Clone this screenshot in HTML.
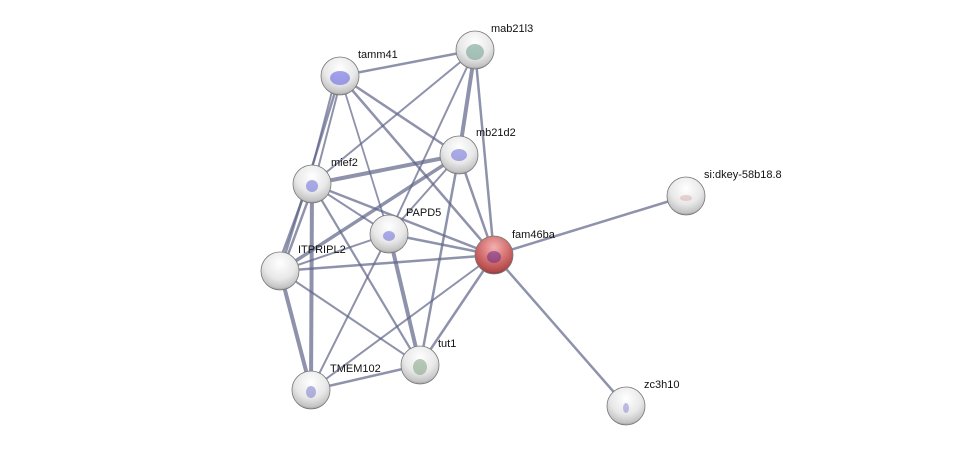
<!DOCTYPE html>
<html><head><meta charset="utf-8"><style>
html,body{margin:0;padding:0;background:#fff;}
svg{display:block;}
text{font-family:"Liberation Sans",sans-serif;font-size:11px;fill:#111;}
</style></head><body>
<svg width="975" height="451" viewBox="0 0 975 451" xmlns="http://www.w3.org/2000/svg">
<defs>
<radialGradient id="g" cx="0.5" cy="0.3" r="0.75">
<stop offset="0" stop-color="#ffffff"/><stop offset="0.55" stop-color="#e8e8e8"/><stop offset="0.85" stop-color="#c4c4c4"/><stop offset="1" stop-color="#7a7a7a"/>
</radialGradient>
<radialGradient id="r" cx="0.5" cy="0.3" r="0.75">
<stop offset="0" stop-color="#f4b0b0"/><stop offset="0.55" stop-color="#d06a6a"/><stop offset="0.85" stop-color="#b04848"/><stop offset="1" stop-color="#6a2020"/>
</radialGradient>
</defs>
<g stroke="#5e6488" stroke-opacity="0.7" fill="none">
<line x1="340" y1="76" x2="475" y2="50" stroke-width="2.5"/>
<line x1="340" y1="76" x2="459" y2="155" stroke-width="2.5"/>
<line x1="336" y1="76" x2="308" y2="184" stroke-width="2"/>
<line x1="342" y1="76" x2="314" y2="184" stroke-width="2"/>
<line x1="340" y1="76" x2="280" y2="271" stroke-width="2.5"/>
<line x1="340" y1="76" x2="494" y2="255" stroke-width="2.5"/>
<line x1="340" y1="76" x2="389" y2="234" stroke-width="1.8"/>
<line x1="475" y1="50" x2="459" y2="155" stroke-width="4"/>
<line x1="475" y1="50" x2="312" y2="184" stroke-width="2"/>
<line x1="475" y1="50" x2="494" y2="255" stroke-width="2.5"/>
<line x1="475" y1="50" x2="389" y2="234" stroke-width="2"/>
<line x1="459" y1="155" x2="312" y2="184" stroke-width="4"/>
<line x1="459" y1="155" x2="280" y2="271" stroke-width="3.5"/>
<line x1="459" y1="155" x2="494" y2="255" stroke-width="2.5"/>
<line x1="459" y1="155" x2="389" y2="234" stroke-width="2"/>
<line x1="459" y1="155" x2="420" y2="365" stroke-width="2.5"/>
<line x1="308" y1="184" x2="276" y2="271" stroke-width="2.5"/>
<line x1="314" y1="184" x2="282" y2="271" stroke-width="2.5"/>
<line x1="312" y1="184" x2="311" y2="390" stroke-width="4"/>
<line x1="312" y1="184" x2="494" y2="255" stroke-width="2.5"/>
<line x1="312" y1="184" x2="389" y2="234" stroke-width="2"/>
<line x1="312" y1="184" x2="420" y2="365" stroke-width="2.2"/>
<line x1="389" y1="234" x2="494" y2="255" stroke-width="2.5"/>
<line x1="389" y1="234" x2="420" y2="365" stroke-width="4"/>
<line x1="389" y1="234" x2="280" y2="271" stroke-width="2"/>
<line x1="389" y1="234" x2="311" y2="390" stroke-width="2"/>
<line x1="280" y1="271" x2="494" y2="255" stroke-width="2.5"/>
<line x1="280" y1="271" x2="311" y2="390" stroke-width="4"/>
<line x1="280" y1="271" x2="420" y2="365" stroke-width="2"/>
<line x1="494" y1="255" x2="686" y2="196" stroke-width="2.5"/>
<line x1="494" y1="255" x2="626" y2="406" stroke-width="2.5"/>
<line x1="494" y1="255" x2="420" y2="365" stroke-width="2.5"/>
<line x1="494" y1="255" x2="311" y2="390" stroke-width="2"/>
<line x1="420" y1="365" x2="311" y2="390" stroke-width="2.5"/>
</g>
<g stroke="#777" stroke-width="0.8">
<circle cx="340" cy="76" r="19" fill="url(#g)"/>
<circle cx="475" cy="50" r="19" fill="url(#g)"/>
<circle cx="459" cy="155" r="19" fill="url(#g)"/>
<circle cx="312" cy="184" r="19" fill="url(#g)"/>
<circle cx="389" cy="234" r="19" fill="url(#g)"/>
<circle cx="280" cy="271" r="19" fill="url(#g)"/>
<circle cx="494" cy="255" r="19" fill="url(#r)"/>
<circle cx="686" cy="196" r="19" fill="url(#g)"/>
<circle cx="420" cy="365" r="19" fill="url(#g)"/>
<circle cx="311" cy="390" r="19" fill="url(#g)"/>
<circle cx="626" cy="406" r="19" fill="url(#g)"/>
</g>
<g opacity="0.55">
<ellipse cx="340" cy="78" rx="10" ry="7" fill="#5a5ae0"/>
<ellipse cx="475" cy="52" rx="9" ry="8" fill="#6a9a8a"/>
<ellipse cx="459" cy="155" rx="8" ry="6" fill="#6a6ad8"/>
<ellipse cx="312" cy="186" rx="6" ry="6" fill="#6a6ad8"/>
<ellipse cx="389" cy="236" rx="6" ry="5" fill="#6a6ad8"/>
<ellipse cx="494" cy="257" rx="7" ry="6" fill="#6a2a8a"/>
<ellipse cx="420" cy="367" rx="7" ry="8" fill="#80a080"/>
<ellipse cx="311" cy="392" rx="5" ry="6" fill="#7a7ad0"/>
<ellipse cx="626" cy="408" rx="3" ry="5" fill="#8a8ad0"/>
<ellipse cx="686" cy="198" rx="6" ry="3" fill="#d8b0b0"/>
</g>
<text x="358" y="58">tamm41</text>
<text x="491" y="32">mab21l3</text>
<text x="476" y="136">mb21d2</text>
<text x="331" y="166">mief2</text>
<text x="406" y="216">PAPD5</text>
<text x="298" y="253">ITPRIPL2</text>
<text x="512" y="238">fam46ba</text>
<text x="704" y="178">si:dkey-58b18.8</text>
<text x="438" y="347">tut1</text>
<text x="330" y="372">TMEM102</text>
<text x="644" y="388">zc3h10</text>
</svg>
</body></html>
